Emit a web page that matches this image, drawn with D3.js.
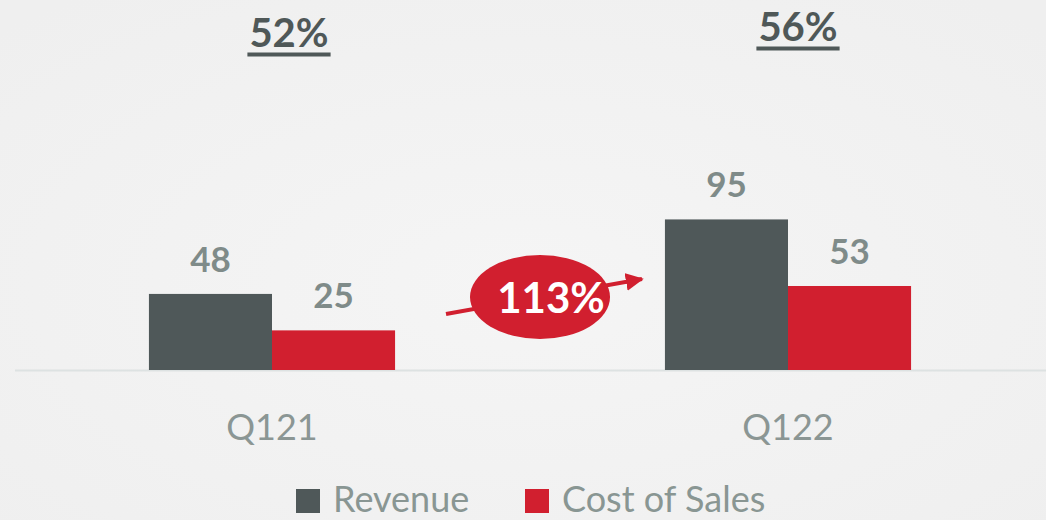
<!DOCTYPE html>
<html>
<head>
<meta charset="utf-8">
<script src="https://cdn.jsdelivr.net/npm/d3@7"></script>
<style>
  html, body { margin: 0; padding: 0; background: #f0f0f0; }
  svg { display: block; }
  text { font-family: Lato, "Open Sans", sans-serif; }
</style>
</head>
<body>
<script>
// Quarterly revenue vs. cost of sales
const categories = ["Q121", "Q122"];
const seriesNames = ["Revenue", "Cost of Sales"];
const revenue = [48, 95];
const costOfSales = [25, 53];
const margins = ["52%", "56%"];
const growthLabel = "113%";

const W = 1046, H = 520;
const colors = { "Revenue": "#4f5859", "Cost of Sales": "#d11f2f" };

const svg = d3.select("body").append("svg").attr("width", W).attr("height", H);

// soft background glow
const defs = svg.append("defs");
const grad = defs.append("radialGradient").attr("id", "bg").attr("cx", "50%").attr("cy", "55%").attr("r", "70%");
grad.append("stop").attr("offset", "0%").attr("stop-color", "#f5f5f5");
grad.append("stop").attr("offset", "100%").attr("stop-color", "#efefef");
svg.append("rect").attr("width", W).attr("height", H).attr("fill", "url(#bg)");

const baseY = 370;
const y = d3.scaleLinear().domain([0, 100]).range([baseY, baseY - 158.5]);
const x0 = d3.scaleBand().domain(categories).range([14, W]).paddingInner(0.523).paddingOuter(0.2615);
const x1 = d3.scaleBand().domain(seriesNames).range([0, x0.bandwidth()]);

const rows = categories.map((c, i) => ({ cat: c, values: [
  { key: "Revenue", value: revenue[i] },
  { key: "Cost of Sales", value: costOfSales[i] }
]}));

// baseline
svg.append("line").attr("x1", 15).attr("x2", W).attr("y1", baseY + 0.5).attr("y2", baseY + 0.5)
  .attr("stroke", "#dde2e2").attr("stroke-width", 2);

const groups = svg.selectAll("g.grp").data(rows).enter().append("g")
  .attr("class", "grp").attr("transform", d => `translate(${x0(d.cat)},0)`);

groups.selectAll("rect").data(d => d.values).enter().append("rect")
  .attr("x", d => x1(d.key)).attr("width", x1.bandwidth())
  .attr("y", d => y(d.value)).attr("height", d => baseY - y(d.value))
  .attr("fill", d => colors[d.key]);

groups.selectAll("text.val").data(d => d.values).enter().append("text")
  .attr("class", "val")
  .attr("x", d => x1(d.key) + x1.bandwidth() / 2)
  .attr("y", d => y(d.value) - 22)
  .attr("text-anchor", "middle")
  .attr("font-size", 35).attr("font-weight", 700).attr("fill", "#7f8b89")
  .text(d => d.value);

// category labels
svg.selectAll("text.cat").data(categories).enter().append("text")
  .attr("class", "cat")
  .attr("x", d => x0(d) + x0.bandwidth() / 2).attr("y", 440)
  .attr("text-anchor", "middle").attr("font-size", 36).attr("fill", "#8b9694")
  .text(d => d);

// gross margin labels, underlined
const marginY = [47, 41];
margins.forEach((m, i) => {
  const cx = x0(categories[i]) + x0.bandwidth() / 2 + 17 + (i === 1 ? -7 : 0);
  const t = svg.append("text").attr("x", cx).attr("y", marginY[i])
    .attr("text-anchor", "middle").attr("font-size", 40).attr("font-weight", 700)
    .attr("fill", "#4f5858").text(m);
  const w = t.node().getComputedTextLength();
  svg.append("rect").attr("x", cx - w / 2 - 2).attr("y", marginY[i] + 5.5).attr("width", w + 4).attr("height", 4)
    .attr("fill", "#4f5858");
});

// growth arrow and badge
const red = "#d11f2f";
defs.append("marker").attr("id", "arrow").attr("viewBox", "0 0 10 10")
  .attr("refX", 9).attr("refY", 5).attr("markerWidth", 4.5).attr("markerHeight", 4.5)
  .attr("orient", "auto").attr("markerUnits", "strokeWidth")
  .append("path").attr("d", "M0,0 L10,5 L0,10 z").attr("fill", red);
svg.append("line").attr("x1", 446).attr("y1", 314).attr("x2", 642).attr("y2", 279)
  .attr("stroke", red).attr("stroke-width", 4).attr("marker-end", "url(#arrow)");
svg.append("ellipse").attr("cx", 540).attr("cy", 297).attr("rx", 70).attr("ry", 42).attr("fill", red);
svg.append("text").attr("x", 551).attr("y", 313).attr("text-anchor", "middle")
  .attr("font-size", 42).attr("font-weight", 700).attr("fill", "#ffffff").text(growthLabel);

// legend
const legend = svg.append("g");
const legendItems = [
  { key: "Revenue", x: 296 },
  { key: "Cost of Sales", x: 525 }
];
legendItems.forEach(it => {
  legend.append("rect").attr("x", it.x).attr("y", 489).attr("width", 24).attr("height", 24).attr("fill", colors[it.key]);
  legend.append("text").attr("x", it.x + 37).attr("y", 512).attr("font-size", 36).attr("fill", "#899693").text(it.key);
});
</script>
</body>
</html>
